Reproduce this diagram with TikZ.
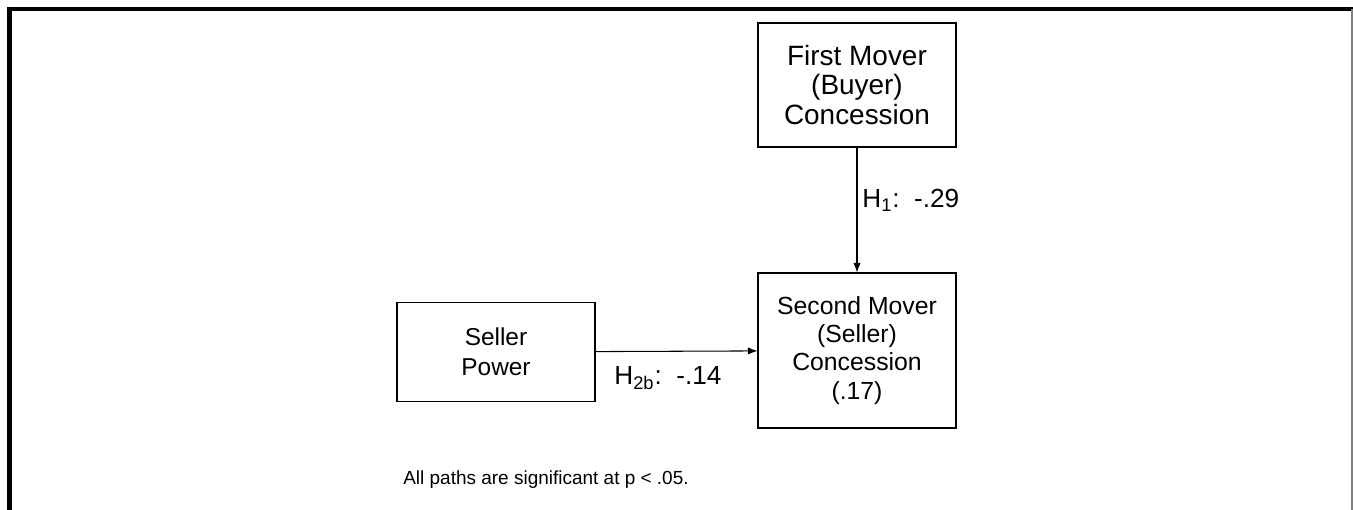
\documentclass[tikz,border=0pt]{standalone}
\usepackage{fontspec}
\setmainfont{Liberation Sans}
\usepackage{tikz}
\usetikzlibrary{arrows.meta}

\tikzset{
  var/.style={draw, line width=0.6pt, align=center, minimum width=3.96cm,
    inner sep=0pt},
  coef/.style={font=\fontsize{14.9}{16}\selectfont, inner sep=0pt, anchor=west}
}

\begin{document}
\begin{tikzpicture}[x=0.02cm, y=-0.02cm, >={Latex[length=5.5pt,width=4.2pt]}]
    \useasboundingbox (0,0) rectangle (1353,510);
    \draw[line width=2.8pt] (9.5,510) -- (9.5,9) -- (1353,9);
    \draw[gray, line width=0.6pt] (1352,9) -- (1352,510);
    \node[var, minimum height=2.48cm, font=\fontsize{15.9}{17}\selectfont] (buyer) at (857,85) {First Mover\\(Buyer)\\Concession};
    \node[var, minimum height=3.1cm, font=\fontsize{14.1}{16}\selectfont] (seller) at (857,350.5) {Second Mover\\(Seller)\\Concession\\(.17)};
    \node[var, minimum height=1.98cm, font=\fontsize{13.9}{17}\selectfont] (power) at (496,352) {Seller\\Power};
    \node[coef] (h1) at (862,200) {H\textsubscript{1}:\ \ -.29};
    \node[coef] (h2b) at (614,378) {H\textsubscript{2b}:\ \ -.14};
    \node[font=\fontsize{10.8}{13}\selectfont, inner sep=0pt] (note) at (546,480) {All paths are significant at p < .05.};
    \draw[->, line width=0.6pt] (buyer) -- (seller);
    \draw[->, line width=0.6pt] (power) -- (seller);
\end{tikzpicture}
\end{document}
